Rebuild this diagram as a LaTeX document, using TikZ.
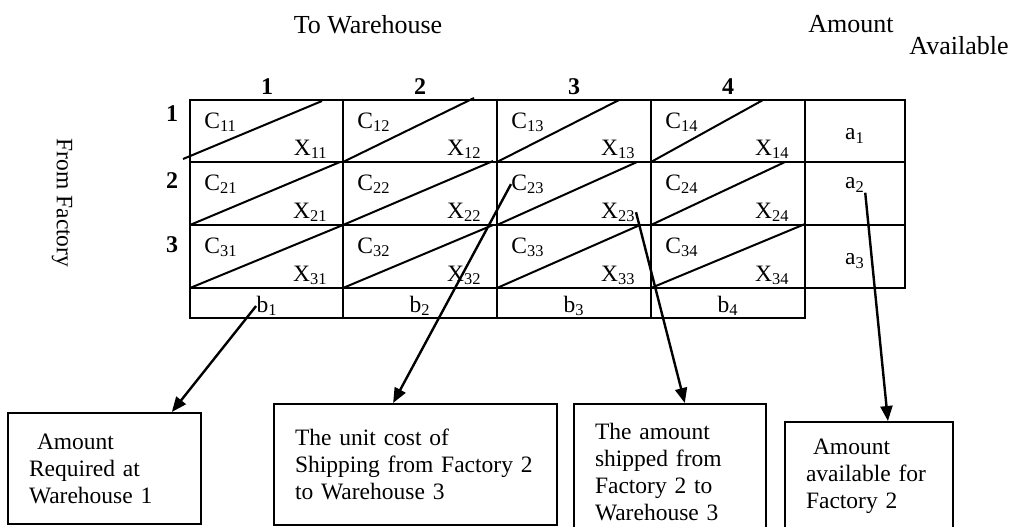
\documentclass[tikz,border=0pt]{standalone}
\usepackage{fontspec}
\setmainfont{Liberation Serif}
\usetikzlibrary{arrows.meta}

\begin{document}
\begin{tikzpicture}[x=0.5pt,y=-0.5pt,
  font=\fontsize{11.75}{13.5}\selectfont,
  cell/.style={inner sep=0pt},
  head/.style={font=\fontsize{13}{15}\selectfont,inner sep=0pt},
  num/.style={font=\fontsize{12}{14}\selectfont\bfseries,inner sep=0pt},
  note/.style={draw,line width=1pt,align=left,anchor=north west,inner xsep=10.5pt,inner ysep=0pt},
  rule/.style={line width=1pt,line cap=rect},
  arr/.style={->,line width=1.2pt},
  >={Triangle[length=7.5pt,width=6pt]}]
\useasboundingbox (0,0) rectangle (1013,526);
% headings
\node[head] (tow) at (368,24.5) {To Warehouse};
\node[head] (amt) at (851,24.5) {Amount};
\node[head] (avl) at (959,46) {Available};
\node[rotate=-90,inner sep=0pt] (fromf) at (62,203) {From Factory};
% table frame
\draw[rule] (190,100) -- (905,100) (190,162) -- (905,162) (190,225) -- (905,225)
  (190,288) -- (905,288) (190,318) -- (805,318) (905,100) -- (905,288);
\foreach \x in {190,343,497,651,805} \draw[rule] (\x,100) -- (\x,318);
% diagonals
\foreach \ax/\ay/\bx/\by in {183/159/322/101,343/162/474/98,497/162/619/100,651/162/763/100,
  190/225/340/162,343/225/493/161,497/225/637/162,651/225/785/162,
  190/288/343/225,343/288/493/225,497/288/640/225,651/288/805/224}
  \draw[rule,line cap=butt] (\ax,\ay) -- (\bx,\by);
% cost and shipment entries
\foreach \i/\ya/\yb in {1/100/162,2/162/225,3/225/288}
  \foreach \j/\xa/\xb in {1/190/343,2/343/497,3/497/651,4/651/805} {
    \node[cell,anchor=base west] (C\i\j) at (\xa+14,\ya+28) {C\textsubscript{\i\j}};
    \node[cell,anchor=base east] (X\i\j) at (\xb-15,\yb-7) {X\textsubscript{\i\j}};
  }
\foreach \i/\y in {1/114,2/181,3/245} \node[num] (r\i) at (172,\y) {\i};
\foreach \j/\x in {1/267,2/420,3/574,4/728} {
  \node[num,anchor=base] (c\j) at (\x,94) {\j};
  \node[cell] (b\j) at (\x,306) {b\textsubscript{\j}};
}
\node[cell] (a1) at (855,136) {a\textsubscript{1}};
\node[cell] (a2) at (855,185) {a\textsubscript{2}};
\node[cell] (a3) at (855,261) {a\textsubscript{3}};
% explanation boxes
\node[note,text width=75.5pt,minimum height=55.5pt] (req) at (7,412) {\hspace{4pt}Amount\\Required at\\Warehouse 1};
\node[note,text width=120.5pt,minimum height=60.5pt] (cost) at (273,403) {The unit cost of\\Shipping from Factory 2\\to Warehouse 3};
\node[note,text width=75pt,minimum height=68.5pt] (ship) at (573,403) {The amount\\shipped from\\Factory 2 to\\Warehouse 3};
\node[note,text width=63pt,minimum height=54pt] (avail) at (784,421) {\hspace{3.5pt}Amount\\available for\\Factory 2};
\draw[arr] (b1.west) -- (req.40);
\draw[arr] (C23.west) -- (cost.110);
\draw[arr] (X23.east) -- (ship.78);
\draw[arr] (a2.south east) -- (avail.71);
\end{tikzpicture}
\end{document}
